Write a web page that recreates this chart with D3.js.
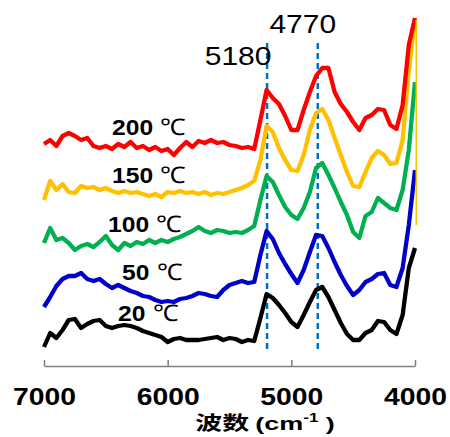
<!DOCTYPE html>
<html>
<head>
<meta charset="utf-8">
<script src="https://cdn.jsdelivr.net/npm/d3@7"></script>
<style>
  body { margin: 0; background: #fff; }
  text { font-family: Arial, "Liberation Sans", sans-serif; }
</style>
</head>
<body>
<div id="vis"></div>
<script>
var w = 450, h = 437;

// wavenumber grid (cm-1)
var wavenumber = [7000,6950,6900,6850,6800,6750,6700,6650,6600,6550,
  6500,6450,6400,6350,6300,6250,6200,6150,6100,6050,
  6000,5950,5900,5850,5800,5750,5700,5650,5600,5550,
  5500,5450,5400,5350,5300,5250,5200,5150,5100,5050,
  5000,4950,4900,4850,4800,4750,4700,4650,4600,4550,
  4500,4450,4400,4350,4300,4250,4200,4150,4100,4050,4000];

// offset intensities (a.u.)
var s20 = [19,33,28,36,46,47,38,42,45,46,
  40,38,40,41,40,38,35,33,31,29,
  24,27,28,26,26,26,27,28,29,26,
  28,27,24,26,25,48,72,68,61,53,
  44,39,51,64,76,79,69,56,43,32,
  26,26,33,36,45,44,36,32,51,98,118];
var s50 = [59,69,80,87,90,90,93,87,85,87,
  82,78,81,78,75,73,70,69,66,64,
  65,64,67,68,70,73,72,70,69,76,
  81,83,85,83,84,111,135,127,113,102,
  92,83,96,114,131,130,118,104,91,80,
  71,76,84,87,92,93,81,79,98,141,196];
var s100 = [123,138,126,128,123,116,120,122,119,124,
  130,121,116,123,120,124,122,126,123,126,
  124,127,129,132,135,139,135,133,136,135,
  133,134,133,136,140,166,190,184,171,159,
  151,147,158,174,198,203,191,178,164,151,
  134,128,150,154,168,163,158,156,176,216,284];
var s150 = [166,185,176,182,174,173,180,178,179,176,
  178,175,173,175,173,174,172,170,172,169,
  174,173,175,173,174,172,174,171,173,172,
  174,176,178,181,185,206,240,234,218,206,
  196,195,211,236,253,257,246,228,211,194,
  180,179,194,208,215,211,202,203,226,296,346];
var s200 = [222,226,220,230,233,230,226,228,220,218,
  220,217,222,219,224,218,220,216,219,215,
  217,211,218,224,219,225,223,226,223,224,
  221,220,218,219,217,246,276,268,262,250,
  236,236,256,274,290,298,298,274,262,254,
  244,236,248,251,257,256,241,237,261,321,348];

var series = [
  {name: "20", values: s20, color: "#000000", lx: 118, ly: 321},
  {name: "50", values: s50, color: "#0000c8", lx: 122, ly: 280},
  {name: "100", values: s100, color: "#00b050", lx: 108, ly: 232},
  {name: "150", values: s150, color: "#ffc000", lx: 112, ly: 183},
  {name: "200", values: s200, color: "#ff0000", lx: 112, ly: 135}
];

// thin trailing segment of the 150 spectrum at the right edge
var tail150 = [[3990, 346], [3990, 141]];

var peaks = [5180, 4770];
var peakLabels = ["5180", "4770"];
var xTicks = [7000, 6000, 5000, 4000];

var svg = d3.select("div#vis").append("svg")
  .attr("width", w)
  .attr("height", h);

var x = d3.scaleLinear().domain([7000, 4000]).range([44, 415]);
var y = d3.scaleLinear().domain([0, 350]).range([366, 16]);

// dashed peak markers
svg.selectAll("line.peak").data(peaks).enter().append("line")
  .attr("class", "peak")
  .attr("x1", function(d) { return x(d) - 2; })
  .attr("x2", function(d) { return x(d) - 2; })
  .attr("y1", 43)
  .attr("y2", 350)
  .style("stroke", "#0070c0")
  .style("stroke-width", 2.5)
  .style("stroke-dasharray", "6,4");

svg.selectAll("text.peak").data(peaks).enter().append("text")
  .attr("class", "peak")
  .attr("transform", function(d, i) {
    return "translate(" + (x(d) + (i === 0 ? -31 : -17)) + "," + (i === 0 ? 65 : 33) + ") scale(1.2,1)";
  })
  .attr("text-anchor", "middle")
  .style("font-size", "25px")
  .text(function(d, i) { return peakLabels[i]; });

var line = d3.line()
  .x(function(d, i) { return x(wavenumber[i]); })
  .y(function(d) { return y(d); });

svg.selectAll("path.spec").data(series).enter().append("path")
  .attr("class", "spec")
  .attr("d", function(d) { return line(d.values); })
  .style("fill", "none")
  .style("stroke", function(d) { return d.color; })
  .style("stroke-width", 4.3)
  .style("stroke-linejoin", "round");

svg.append("path")
  .attr("d", d3.line().x(function(d) { return x(d[0]); }).y(function(d) { return y(d[1]); })(tail150))
  .style("fill", "none")
  .style("stroke", "#ffc000")
  .style("stroke-width", 1.5);

// temperature labels
var lab = svg.selectAll("text.temp").data(series).enter().append("text")
  .attr("class", "temp")
  .attr("transform", function(d) { return "translate(" + d.lx + "," + d.ly + ") scale(1.12,1)"; })
  .style("font-size", "22px");
lab.append("tspan")
  .style("font-weight", "bold")
  .text(function(d) { return d.name; });
lab.append("tspan")
  .style("font-weight", "normal")
  .style("font-size", "23px")
  .text(" \u2103");

// x axis
var ax = svg.append("g")
  .attr("transform", "translate(0,366)")
  .call(d3.axisBottom(x).tickValues(xTicks).tickFormat(d3.format("d"))
    .tickSizeInner(-6).tickSizeOuter(0).tickPadding(22));
ax.select(".domain").style("stroke", "#808080").style("stroke-width", 1.5);
ax.selectAll(".tick line").style("stroke", "#808080").style("stroke-width", 1.5);
ax.selectAll(".tick text")
  .attr("transform", "scale(1.18,1)")
  .style("font-family", "Arial, 'Liberation Sans', sans-serif")
  .style("font-size", "24px")
  .style("font-weight", "bold")
  .style("fill", "#000");

var title = svg.append("text")
  .attr("transform", "translate(265,430) scale(1.42,1)")
  .attr("text-anchor", "middle")
  .style("font-size", "19px")
  .style("font-weight", "bold");
title.append("tspan").style("font-family", "'Noto Sans CJK SC', sans-serif").text("波数 ");
title.append("tspan").text("(cm");
title.append("tspan").attr("dy", -8).style("font-size", "12px").text("-1");
title.append("tspan").attr("dy", 8).text(" )");
</script>
</body>
</html>
